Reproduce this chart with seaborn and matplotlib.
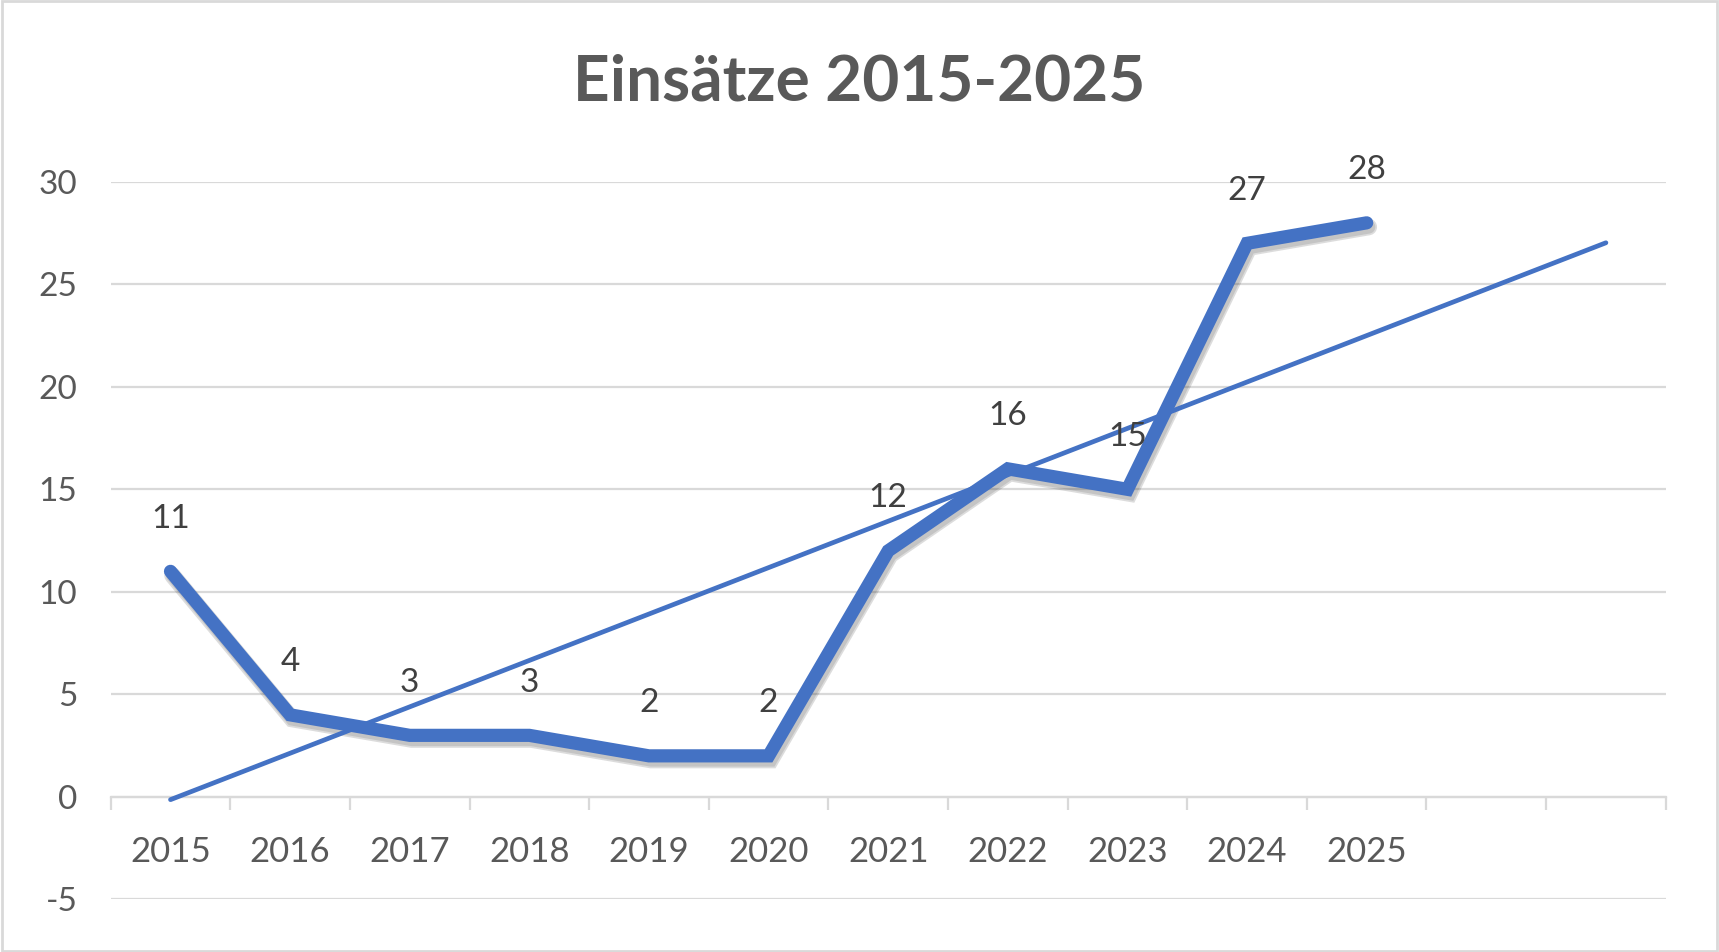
import numpy as np
import pandas as pd
import matplotlib
matplotlib.use("Agg")
import matplotlib.pyplot as plt
import matplotlib.patheffects as pe
from matplotlib.patches import Rectangle
import seaborn as sns

# ---- data ----
years = [2015, 2016, 2017, 2018, 2019, 2020, 2021, 2022, 2023, 2024, 2025]
einsaetze = [11, 4, 3, 3, 2, 2, 12, 16, 15, 27, 28]
forecast_periods = 2
title = "Einsätze 2015-2025"

sns.set_theme(style="white")
plt.rcParams['font.family'] = ['Lato', 'DejaVu Sans']
plt.rcParams['axes.unicode_minus'] = False

blue = "#4472C4"
grid_c = "#D9D9D9"
txt_c = "#595959"

fig = plt.figure(figsize=(17.19, 9.52), dpi=100)
ax = fig.add_axes([0.0644, 0.0553, 0.969 - 0.0644, 0.809 - 0.0553])

idx = np.arange(len(years))
df = pd.DataFrame({"pos": idx, "val": einsaetze})

# linear trendline (least squares) with forward forecast
coef = np.polyfit(idx, einsaetze, 1)
tx = np.array([0, len(years) - 1 + forecast_periods])
tdf = pd.DataFrame({"pos": tx, "val": np.polyval(coef, tx)})

sns.lineplot(data=df, x="pos", y="val", ax=ax, color=blue, linewidth=9.5,
             solid_capstyle="round", solid_joinstyle="miter", zorder=3,
             path_effects=[pe.SimpleLineShadow(offset=(1.5, -3), shadow_color="k", alpha=0.15, linewidth=12),
                           pe.SimpleLineShadow(offset=(1.5, -3), shadow_color="k", alpha=0.12),
                           pe.Normal()])
sns.lineplot(data=tdf, x="pos", y="val", ax=ax, color=blue, linewidth=3.4,
             solid_capstyle="round", zorder=4)

for x, v in zip(idx, einsaetze):
    ax.annotate(str(v), (x, v), xytext=(0, 38), textcoords="offset points",
                ha="center", va="center", fontsize=24, color="#404040", zorder=5)

ncat = len(years) + forecast_periods
ax.set_xlim(-0.5, ncat - 0.5)
ax.set_ylim(-5, 30)
ax.set_yticks(np.arange(-5, 31, 5))
ax.grid(axis="y", color=grid_c, linewidth=1.6)
ax.grid(axis="x", visible=False)
ax.set_xlabel("")
ax.set_ylabel("")

for s in ["top", "right", "left"]:
    ax.spines[s].set_visible(False)
ax.spines["bottom"].set_position(("data", 0))
ax.spines["bottom"].set_color(grid_c)
ax.spines["bottom"].set_linewidth(1.6)

ax.set_xticks(np.arange(-0.5, ncat, 1.0))
ax.set_xticklabels([])
ax.tick_params(axis="x", which="major", bottom=True, direction="out", length=9, width=1.6, color=grid_c)
ax.set_xticks(idx, minor=True)
ax.set_xticklabels([str(y) for y in years], minor=True)
ax.tick_params(axis="x", which="minor", bottom=True, length=0, pad=28, labelsize=25, labelcolor=txt_c)
ax.tick_params(axis="y", left=False, length=0, pad=24, labelsize=24, labelcolor=txt_c)

fig.text(0.5, 0.914, title, ha="center", va="center", fontsize=46,
         fontweight="bold", color=txt_c)

fig.patches.append(Rectangle((0.001, 0.001), 0.998, 0.998, transform=fig.transFigure,
                             fill=False, edgecolor=grid_c, linewidth=2))

fig.savefig("out.png", dpi=100, facecolor="white")
